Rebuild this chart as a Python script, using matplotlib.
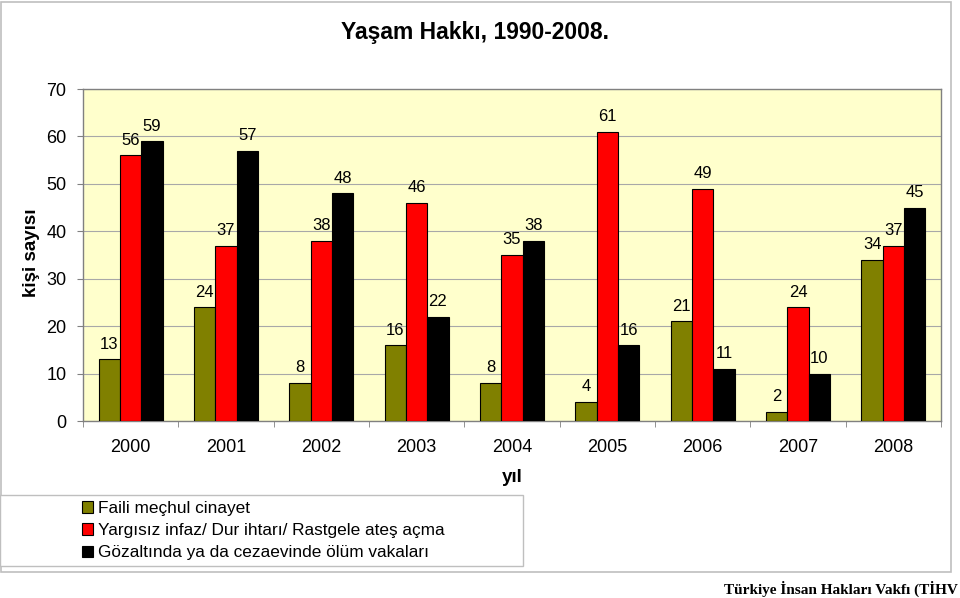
import matplotlib
matplotlib.use("Agg")
import matplotlib.pyplot as plt
from matplotlib.patches import Rectangle, Patch
import numpy as np

years = ["2000", "2001", "2002", "2003", "2004", "2005", "2006", "2007", "2008"]
faili_mechul = [13, 24, 8, 16, 8, 4, 21, 2, 34]
yargisiz_infaz = [56, 37, 38, 46, 35, 61, 49, 24, 37]
gozaltinda = [59, 57, 48, 22, 38, 16, 11, 10, 45]
series_names = ["Faili meçhul cinayet",
                "Yargısız infaz/ Dur ihtarı/ Rastgele ateş açma",
                "Gözaltında ya da cezaevinde ölüm vakaları"]
colors = ["#808000", "#FF0000", "#000000"]
yticks = [0, 10, 20, 30, 40, 50, 60, 70]

plt.rcParams['font.family'] = ['Liberation Sans', 'DejaVu Sans']

W, H = 960, 598
fig = plt.figure(figsize=(9.6, 5.98), dpi=100)
ax = fig.add_axes([83 / W, 1 - 421 / H, (941 - 83) / W, (421 - 89) / H])
ax.set_facecolor("#FFFFCC")

x = np.arange(len(years))
bw = 0.223
for i, (vals, c) in enumerate(zip([faili_mechul, yargisiz_infaz, gozaltinda], colors)):
    pos = x + (i - 1) * bw
    ax.bar(pos, vals, width=bw, color=c, edgecolor="#000000", linewidth=0.8, zorder=3)
    for p, v in zip(pos, vals):
        ax.text(p, v + 1.6, str(v), ha="center", va="bottom", fontsize=12, color="#000000", zorder=4)

ax.set_xlim(-0.5, len(years) - 0.5)
ax.set_ylim(0, 70)
ax.set_yticks(yticks)
ax.set_yticklabels([str(t) for t in yticks], fontsize=13)
ax.set_xticks(x)
ax.set_xticklabels(years, fontsize=13)
ax.tick_params(axis="x", length=0, pad=13)
ax.set_xticks(np.arange(len(years) + 1) - 0.5, minor=True)
ax.tick_params(axis="x", which="minor", length=4, color="#808080")
ax.tick_params(axis="y", length=4, color="#808080", pad=8)
ax.yaxis.grid(True, color="#A8A8A8", linewidth=0.8, zorder=0)
ax.set_axisbelow(True)
for s in ax.spines.values():
    s.set_color("#808080")
    s.set_linewidth(1.0)

fig.text(475 / W, 1 - 33 / H, "Yaşam Hakkı, 1990-2008.", ha="center", va="center",
         fontsize=16.5, fontweight="bold")
fig.text(32 / W, 1 - 253 / H, "kişi sayısı", ha="center", va="center", rotation=90,
         fontsize=13.5, fontweight="bold")
fig.text(512 / W, 1 - 478 / H, "yıl", ha="center", va="center", fontsize=13.5, fontweight="bold")

# figure border
fig.patches.append(Rectangle((1 / W, 1 - 572 / H), (951 - 1) / W, (572 - 2) / H,
                             transform=fig.transFigure, fill=False, edgecolor="#BFBFBF", linewidth=1.2))
# legend box
fig.patches.append(Rectangle((0 / W, 1 - 566 / H), 523 / W, (566 - 495) / H,
                             transform=fig.transFigure, facecolor="white", edgecolor="#BFBFBF", linewidth=1.0, zorder=5))
handles = [Patch(facecolor=c, edgecolor="#000000", linewidth=0.8) for c in colors]
leg = fig.legend(handles, series_names, loc="upper left", bbox_to_anchor=(69 / W, 1 - 488 / H),
                 frameon=False, fontsize=12.4, handlelength=0.65, handleheight=0.65,
                 handletextpad=0.3, labelspacing=0.42, borderpad=0.25)
leg.set_zorder(6)

fig.text(724 / W, 1 - 589 / H, "Türkiye İnsan Hakları Vakfı (TİHV", ha="left", va="center",
         fontsize=11, fontweight="bold", family=['Liberation Serif', 'DejaVu Serif'])

fig.savefig("out.png", dpi=100)
